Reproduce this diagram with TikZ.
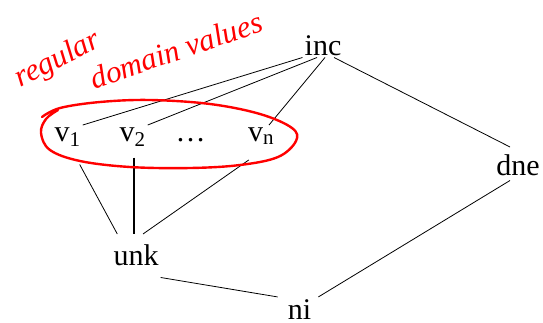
\documentclass[tikz,border=0pt]{standalone}
\usepackage{fontspec}
\setmainfont{Liberation Serif}
\begin{document}
\begin{tikzpicture}[x=1pt,y=-1pt,
    every node/.style={inner sep=2pt,font=\fontsize{30}{36}\selectfont},
    lattice/.style={anchor=base},
    edge/.style={line width=0.8pt},
    note/.style={red,inner sep=0pt,font=\fontsize{31}{36}\selectfont\itshape},
    loop/.style={red,line width=2.4pt,line cap=round,line join=round}]
    \useasboundingbox (0,0) rectangle (543,322);
    % lattice elements
    \node[lattice] (inc) at (323,55) {inc};
    \node[lattice] (v1) at (67.5,141) {v\textsubscript{1}};
    \node[lattice] (v2) at (132.5,141) {v\textsubscript{2}};
    \node[lattice] (dots) at (190.5,141) {\dots};
    \node[lattice] (vn) at (261,141) {v\textsubscript{n}};
    \node[lattice] (dne) at (518,175) {dne};
    \node[lattice] (unk) at (136,265) {unk};
    \node[lattice] (ni) at (299.5,319) {ni};
    % order
    \draw[edge] (inc.south west) -- (v1.north east);
    \draw[edge] ([xshift=-6pt]inc.south) -- (v2.north east);
    \draw[edge] ([xshift=2pt]inc.south) -- ([xshift=8pt]vn.north);
    \draw[edge] ([xshift=11pt]inc.south) -- ([xshift=-8pt,yshift=5pt]dne.north);
    \draw[edge] ([xshift=-3pt,yshift=-16pt]v1.south east) -- ([xshift=6pt,yshift=8pt]unk.north west);
    \draw[edge,line width=1.6pt] ([xshift=1.5pt,yshift=-9pt]v2.south) -- ([xshift=-2pt,yshift=8pt]unk.north);
    \draw[edge] ([xshift=3pt,yshift=-13pt]vn.south west) -- ([xshift=7pt,yshift=8pt]unk.north);
    \draw[edge] ([yshift=-10pt]unk.south east) -- ([xshift=-8pt]ni.north west);
    \draw[edge] ([xshift=-8pt,yshift=-3pt]dne.south) -- ([xshift=5pt]ni.north east);
    % red annotation
    \draw[loop] plot[smooth,tension=0.6] coordinates {(42,117) (60,108) (100,102) (150,100) (210,104)
        (260,114) (292,128) (296,141) (278,157) (240,165) (190,168) (130,167) (80,161) (50,150)
        (41,133) (46,119) (58,110)};
    \node[note,rotate=27] (regular) at (58,60) {regular};
    \node[note,rotate=19] (domain) at (176,50) {domain values};
\end{tikzpicture}
\end{document}
